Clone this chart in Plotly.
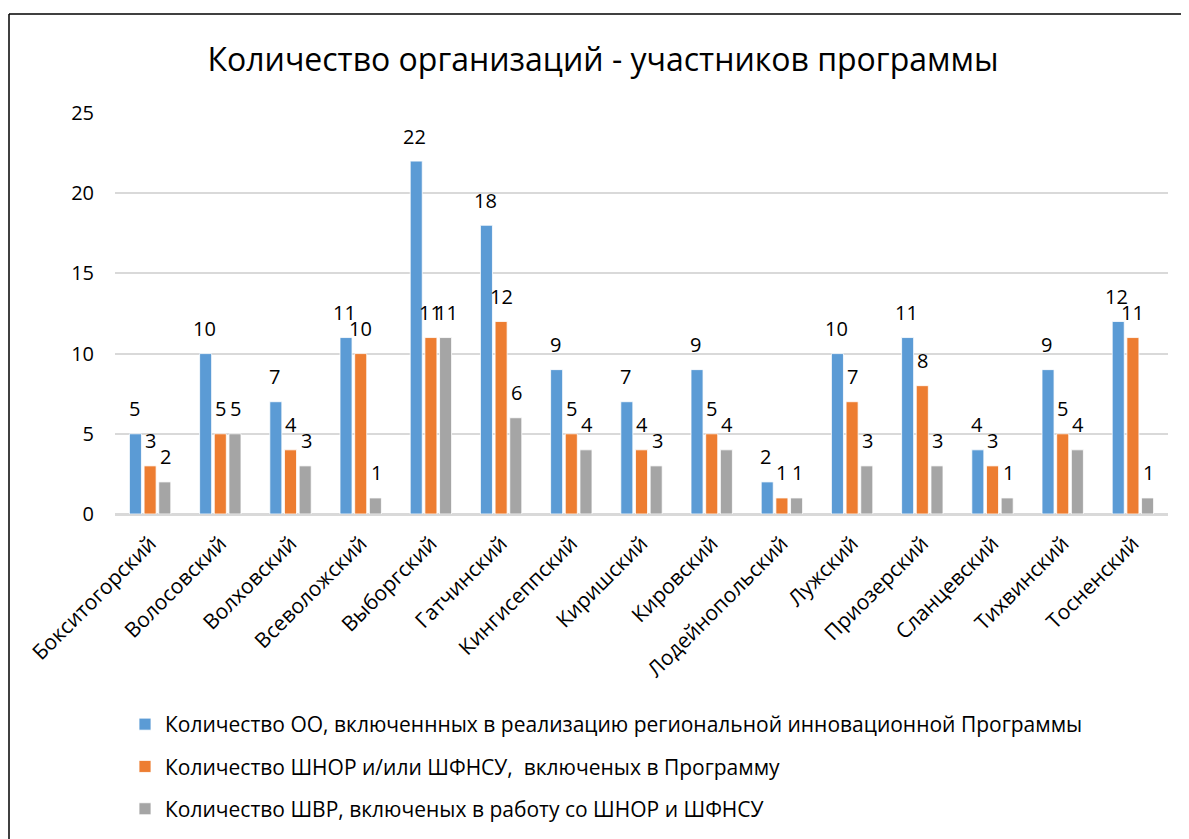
import plotly.graph_objects as go

categories = ["Бокситогорский", "Волосовский", "Волховский", "Всеволожский", "Выборгский",
              "Гатчинский", "Кингисеппский", "Киришский", "Кировский", "Лодейнопольский",
              "Лужский", "Приозерский", "Сланцевский", "Тихвинский", "Тосненский"]
series_names = ["Количество ОО, включеннных в реализацию региональной инновационной Программы",
                "Количество ШНОР и/или ШФНСУ,  включеных в Программу",
                "Количество ШВР, включеных в работу со ШНОР и ШФНСУ"]
oo_values = [5, 10, 7, 11, 22, 18, 9, 7, 9, 2, 10, 11, 4, 9, 12]
shnor_values = [3, 5, 4, 10, 11, 12, 5, 4, 5, 1, 7, 8, 3, 5, 11]
shvr_values = [2, 5, 3, 1, 11, 6, 4, 3, 4, 1, 3, 3, 1, 4, 1]
colors = ["#5B9BD5", "#ED7D31", "#A5A5A5"]
y_ticks = [0, 5, 10, 15, 20, 25]

FONT = "Open Sans"
OFF = 8  # page body margin in the browser
W, H = 1189 - OFF, 839 - OFF
# plot area in screen pixels: x 115..1168, y 113..514
L, R, T, B = 115 - OFF, 1189 - 1168, 113 - OFF, 839 - 514
pw, ph = W - L - R, H - T - B

def px_x(px):
    return (px - OFF - L) / pw

def px_y(py):
    return (H - B - (py - OFF)) / ph

fig = go.Figure()
all_series = [oo_values, shnor_values, shvr_values]
for i, (name, vals) in enumerate(zip(series_names, all_series)):
    fig.add_trace(go.Bar(
        x=categories, y=vals, name=name,
        marker=dict(color=colors[i], line=dict(color="white", width=0.8)),
        legendgroup=f"g{i}",
    ))

xshifts = [-16, 0, 15.5]
for i, vals in enumerate(all_series):
    for c, v in zip(categories, vals):
        fig.add_annotation(x=c, y=v, text=str(v), showarrow=False, xref="x", yref="y",
                           xshift=xshifts[i], yshift=25, yanchor="middle",
                           font=dict(family=FONT, size=20, color="#000000"))

# outer border (left and top)
fig.add_shape(type="line", xref="paper", yref="paper",
              x0=px_x(9), x1=px_x(1189), y0=px_y(14), y1=px_y(14),
              line=dict(color="#000000", width=1.5))
fig.add_shape(type="line", xref="paper", yref="paper",
              x0=px_x(9), x1=px_x(9), y0=px_y(14), y1=px_y(839),
              line=dict(color="#000000", width=1.5))

fig.update_layout(
    width=W, height=H,
    margin=dict(l=L, r=R, t=T, b=B, autoexpand=False),
    paper_bgcolor="white", plot_bgcolor="white",
    barmode="group", bargap=0.373, bargroupgap=0.18,
    font=dict(family=FONT, color="#000000"),
    title=dict(text="Количество организаций - участников программы",
               x=(603 - OFF) / W, xanchor="center", xref="container",
               y=1 - (60 - OFF) / H, yanchor="middle", yref="container",
               font=dict(family=FONT, size=32, color="#000000")),
    showlegend=True,
    legend=dict(orientation="v", x=px_x(125), xanchor="left", y=px_y(704), yanchor="top",
                traceorder="grouped", tracegroupgap=12,
                font=dict(family=FONT, size=21, color="#000000"),
                itemwidth=30, bgcolor="rgba(0,0,0,0)"),
    xaxis=dict(tickangle=-45, tickfont=dict(family=FONT, size=21, color="#000000"),
               showgrid=False, showline=True, linecolor="#D9D9D9", linewidth=2,
               ticks="", ticklabelstandoff=7),
    yaxis=dict(range=[0, 25], tickvals=y_ticks, tickfont=dict(family=FONT, size=20, color="#000000"),
               showgrid=True, gridcolor="#D9D9D9", gridwidth=1.5, zeroline=True,
               zerolinecolor="#D9D9D9", zerolinewidth=2, ticks="", showline=False,
               ticklabelstandoff=20),
)

fig.write_html("out.html")
